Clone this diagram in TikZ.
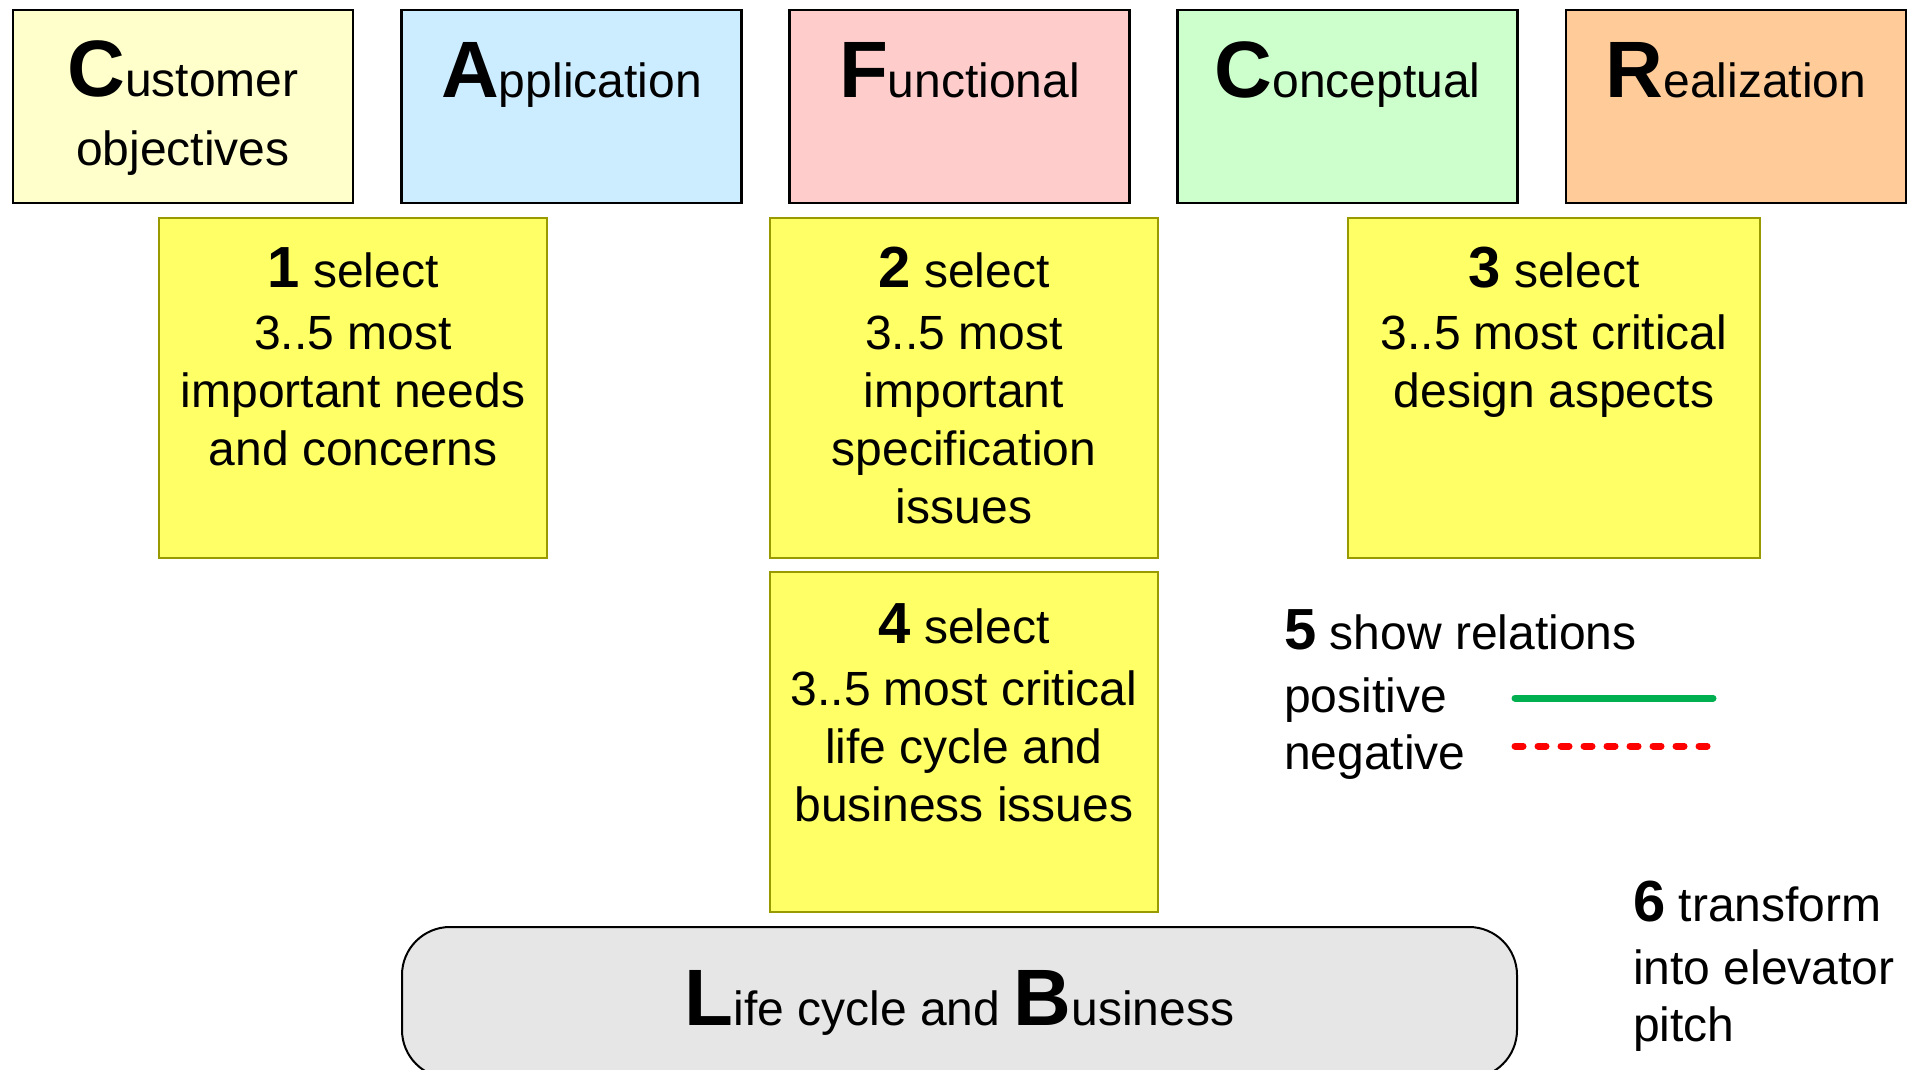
\documentclass[tikz,border=0pt]{standalone}
\usepackage{fontspec}
\setmainfont{Liberation Sans}
\definecolor{custC}{HTML}{FFFFCC}
\definecolor{appC}{HTML}{CCECFF}
\definecolor{funcC}{HTML}{FFCCCC}
\definecolor{concC}{HTML}{CCFFCC}
\definecolor{realC}{HTML}{FFCC99}
\definecolor{yelC}{HTML}{FFFF66}
\definecolor{yelB}{HTML}{999900}
\definecolor{lcbC}{HTML}{E6E6E6}
\definecolor{posC}{HTML}{00B050}
\definecolor{negC}{HTML}{FF0000}
\newcommand{\initl}[1]{{\fontsize{80}{58}\bfseries #1}}
\newcommand{\stepno}[1]{{\fontsize{58}{58}\bfseries #1}}
\newcommand{\tallrule}{\rule{0pt}{60pt}}
\tikzset{
  viewbox/.style={draw=black, line width=2.5pt, rectangle, minimum width=340pt, minimum height=193pt, inner sep=0pt},
  stickbox/.style={draw=yelB, fill=yelC, line width=2pt, rectangle, minimum height=340pt, inner sep=0pt},
  txt/.style={font=\fontsize{48}{58}\selectfont, align=center, inner sep=0pt, anchor=north},
  ltxt/.style={font=\fontsize{48}{58}\selectfont, align=left, inner sep=0pt},
  posline/.style={draw=posC, line width=7pt, line cap=round},
  negline/.style={draw=negC, line width=7pt, line cap=round, dash pattern=on 8pt off 15pt}
}
\begin{document}
\begin{tikzpicture}[x=1pt,y=-1pt]
\useasboundingbox (0,0) rectangle (1914,1070);

% top row of views
\node[viewbox, fill=custC] (cust) at (183,106.5) {};
\node[viewbox, fill=appC]  (app)  at (571.5,106.5) {};
\node[viewbox, fill=funcC] (func) at (959.5,106.5) {};
\node[viewbox, fill=concC] (conc) at (1347.5,106.5) {};
\node[viewbox, fill=realC] (real) at (1736,106.5) {};

\node[txt, font=\fontsize{48}{61}\selectfont] (custT) at (183,36) {\tallrule\initl{C}ustomer\\[8pt]objectives};
\node[txt] (appT)  at (571.5,37) {\tallrule\initl{A}pplication};
\node[txt] (funcT) at (959.5,37) {\tallrule\initl{F}unctional};
\node[txt] (concT) at (1347.5,37) {\tallrule\initl{C}onceptual};
\node[txt] (realT) at (1736,37) {\tallrule\initl{R}ealization};

% yellow step boxes
\node[stickbox, minimum width=388pt] (s1) at (353,388) {};
\node[stickbox, minimum width=388pt] (s2) at (964,388) {};
\node[stickbox, minimum width=412pt] (s3) at (1554,388) {};
\node[stickbox, minimum width=388pt] (s4) at (964,742) {};

\node[txt] (s1T) at (353,227) {\tallrule\stepno{1} select\\[4pt]3..5 most\\important needs\\and concerns};
\node[txt] (s2T) at (964,227) {\tallrule\stepno{2} select\\[4pt]3..5 most\\important\\specification\\issues};
\node[txt] (s3T) at (1554,227) {\tallrule\stepno{3} select\\[4pt]3..5 most critical\\design aspects};
\node[txt] (s4T) at (964,583) {\tallrule\stepno{4} select\\[4pt]3..5 most critical\\life cycle and\\business issues};

% life cycle and business
\node[draw=black, fill=lcbC, line width=2pt, rounded corners=48pt, minimum width=1115pt, minimum height=151pt, inner sep=0pt] (lcb) at (959.5,1002.5) {};
\node[txt] (lcbT) at (959.5,965) {\tallrule\initl{L}ife cycle and \initl{B}usiness};

% legend
\node[ltxt, anchor=base west] (rel) at (1284,649) {\stepno{5} show relations};
\node[ltxt, anchor=base west] (pos) at (1284,712) {positive};
\node[ltxt, anchor=base west] (neg) at (1284,769) {negative};
\coordinate (posA) at (1515,698);
\coordinate (posB) at (1713,698);
\coordinate (negA) at (1515,746);
\coordinate (negB) at (1713,746);
\draw[posline] (posA) -- (posB);
\draw[negline] (negA) -- (negB);

% step 6
\node[ltxt, anchor=north west, font=\fontsize{48}{57}\selectfont] (s6) at (1633,861) {\tallrule\stepno{6} transform\\[6pt]into elevator\\pitch};
\end{tikzpicture}
\end{document}
